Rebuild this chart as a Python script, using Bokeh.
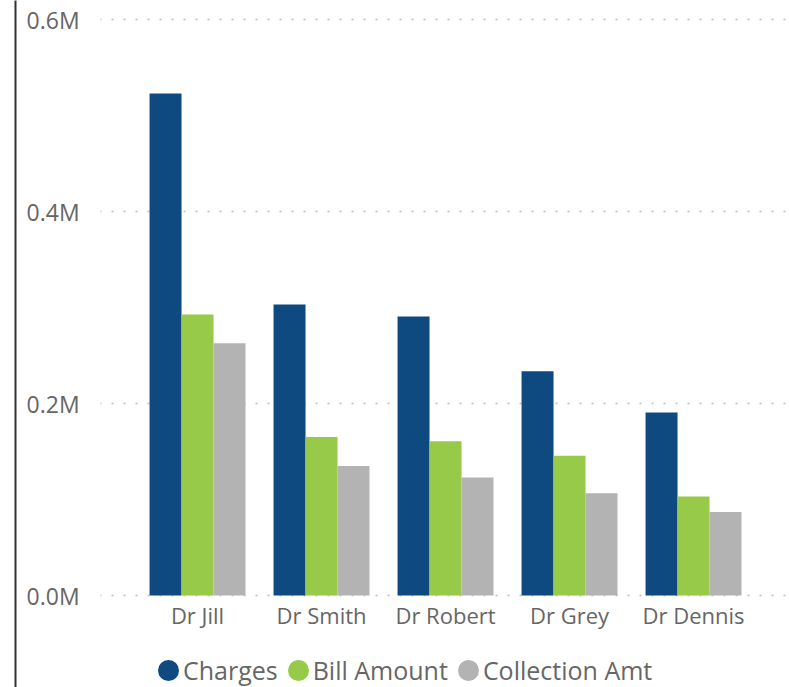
import numpy as np
from bokeh.plotting import figure
from bokeh.models import (ColumnDataSource, Range1d, FixedTicker, CustomJSTickFormatter,
                          Legend, LegendItem, BoxAnnotation, LinearAxis)
from bokeh.transform import dodge
from bokeh.embed import file_html
from bokeh.resources import INLINE

doctors = ["Dr Jill", "Dr Smith", "Dr Robert", "Dr Grey", "Dr Dennis"]
charges = [523000, 303000, 290500, 233500, 190500]
bill_amount = [292700, 165000, 160700, 145500, 103000]
collection_amt = [262800, 135000, 123000, 106500, 87000]
y_ticks = [0, 200000, 400000, 600000]
series_names = ["Charges", "Bill Amount", "Collection Amt"]
colors = ["#0E4A80", "#98CA4A", "#B3B3B3"]

FONT = "Open Sans"
LABEL_COLOR = "#666666"
W, H = 789, 687
X_LO, X_HI = -1.468, 4.774      # view extent in category units
Y_LO, Y_HI = -95833, 619792     # view extent in value units
Y_AXIS_AT = -0.782              # where the value labels sit

idx = list(range(len(doctors)))
source = ColumnDataSource(dict(x=idx, charges=charges, bill=bill_amount, coll=collection_amt))

p = figure(width=W, height=H, output_backend="svg", toolbar_location=None,
           x_range=Range1d(X_LO, X_HI), y_range=Range1d(Y_LO, Y_HI),
           min_border_left=15, min_border_right=0, min_border_top=0, min_border_bottom=0)
p.outline_line_color = None
p.background_fill_color = "white"
p.border_fill_color = "white"

# grid (dotted) restricted to the plot area
p.xgrid.grid_line_color = None
p.ygrid.ticker = FixedTicker(ticks=y_ticks)
p.ygrid.grid_line_color = "#bdbdbd"
p.ygrid.grid_line_dash = "2 10"
p.ygrid.grid_line_width = 1.5
mask = BoxAnnotation(left=X_LO, right=Y_AXIS_AT, bottom=Y_LO, top=Y_HI, level="underlay",
                     fill_color="white", fill_alpha=1.0, line_alpha=0)
p.add_layout(mask)

w = 0.258
p.vbar(x=dodge("x", -w, range=p.x_range), top="charges", width=w, source=source,
       fill_color=colors[0], line_color=None)
p.vbar(x=dodge("x", 0, range=p.x_range), top="bill", width=w, source=source,
       fill_color=colors[1], line_color=None)
p.vbar(x=dodge("x", w, range=p.x_range), top="coll", width=w, source=source,
       fill_color=colors[2], line_color=None)

# legend markers (circles); a single undrawn NaN point so the legend has a glyph to show
legend_src = ColumnDataSource(dict(x=np.array([np.nan]), y=np.array([np.nan])))
markers = [p.scatter("x", "y", source=legend_src, marker="circle", fill_color=c,
                     line_color=c, line_width=9) for c in colors]

legend = Legend(items=[LegendItem(label=n, renderers=[m]) for n, m in zip(series_names, markers)],
                orientation="horizontal", location=(138, 0),
                glyph_width=30, glyph_height=30, label_standoff=-1, spacing=5,
                padding=0, margin=0, border_line_alpha=0, background_fill_alpha=0,
                label_text_font=FONT, label_text_font_size="25px", label_text_color=LABEL_COLOR)
p.add_layout(legend)

# x axis drawn at value 0
p.xaxis.fixed_location = 0
p.xaxis.ticker = FixedTicker(ticks=idx)
p.xaxis.major_label_overrides = {i: d for i, d in zip(idx, doctors)}
p.xaxis.axis_line_color = None
p.xaxis.major_tick_line_color = None
p.xaxis.minor_tick_line_color = None
p.xaxis.major_label_standoff = -2
p.xaxis.major_label_text_font = FONT
p.xaxis.major_label_text_font_size = "22px"
p.xaxis.major_label_text_color = LABEL_COLOR

# left edge line of the visual (axis line without ticks)
p.yaxis.ticker = FixedTicker(ticks=[])
p.yaxis.axis_line_color = "#333333"
p.yaxis.axis_line_width = 2
p.yaxis.major_tick_line_color = None
p.yaxis.minor_tick_line_color = None
p.yaxis.major_label_standoff = 0

# value axis labels
yax = LinearAxis(fixed_location=Y_AXIS_AT, ticker=FixedTicker(ticks=y_ticks),
                 formatter=CustomJSTickFormatter(code="return (tick/1e6).toFixed(1) + 'M';"),
                 axis_line_color=None, major_tick_line_color=None, minor_tick_line_color=None,
                 major_label_standoff=15, major_label_text_font=FONT,
                 major_label_text_font_size="23px", major_label_text_color=LABEL_COLOR)
p.add_layout(yax, "left")

open("out.html", "w").write(file_html(p, INLINE))
